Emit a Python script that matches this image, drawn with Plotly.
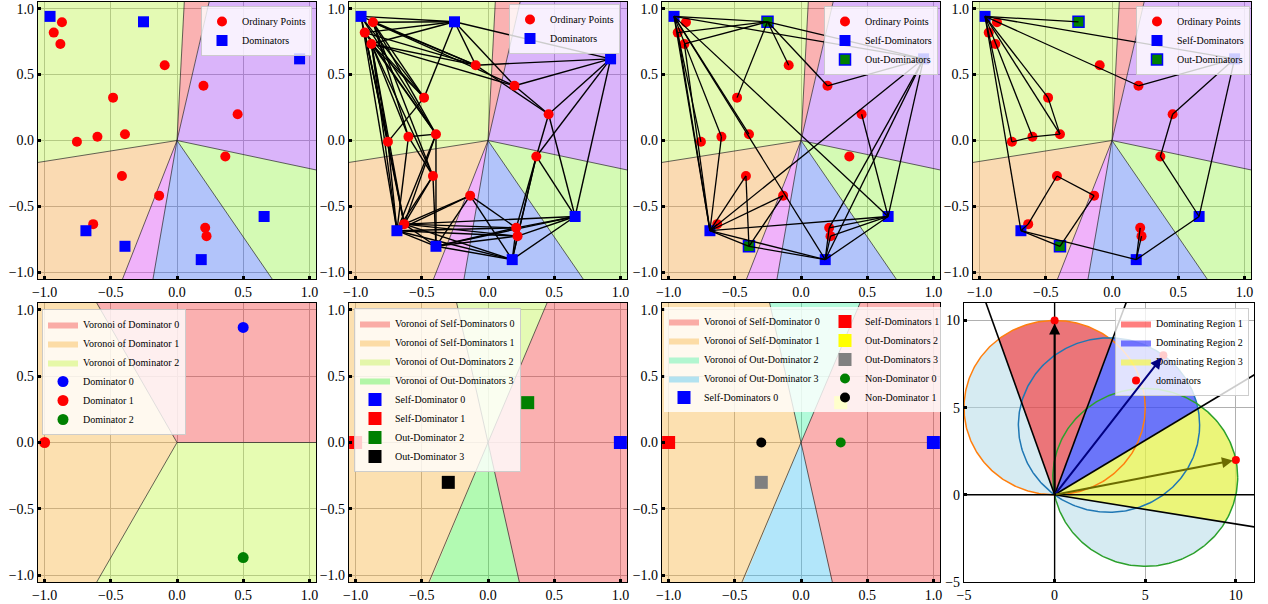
import numpy as np
import plotly.graph_objects as go

# ---------------- data: panels 1-4 (same point set) ----------------
dom_x = [-0.959, -0.253, 0.926, 0.658, 0.183, -0.393, -0.688]
dom_y = [0.941, 0.900, 0.619, -0.576, -0.903, -0.802, -0.684]
ord_x = [-0.869, -0.931, -0.881, -0.093, 0.200, -0.483, 0.458, -0.393,
         -0.601, -0.756, 0.365, -0.416, -0.135, -0.633, 0.213, 0.223]
ord_y = [0.896, 0.818, 0.732, 0.571, 0.415, 0.325, 0.199, 0.048,
         0.028, -0.010, -0.121, -0.269, -0.418, -0.634, -0.662, -0.725]
out_dom_idx = [1, 5]
sector_bounds = [-12.0, 77.0, 87.0, 189.0, 248.6, 260.2, 304.4, 348.0]
sector_colors = [(218, 180, 250), (250, 178, 178), (228, 250, 180), (250, 218, 178),
                 (240, 178, 250), (178, 196, 250), (212, 250, 180)]

edges_p2 = """D0-D1 O0-D1 O1-D1 O2-D1 D1-O3 D1-O4 D1-O5 D1-D2
D0-O3 O0-O3 O1-O3 O2-O3 O0-O4 O2-O4 O3-D2 O3-O6 O4-O6 O4-D2 O6-D2
O6-O10 O10-D2 D2-D3 O6-D3 O10-D3 O10-O14 O10-O15 O10-D4
D0-O5 O0-O5 O1-O5 O2-O5 D0-O7 O0-O7 O1-O7 O2-O7 D0-O9 O1-O9 O2-O9
O0-O8 O2-O8 O0-O11 O2-O11 D0-D6 O1-O13 O2-D6 O2-O13 O5-O9 O8-O7
O9-D6 O9-O13 O8-D6 O8-O11 O7-O13 O7-D6 O7-D5 O11-D6 O11-O13 O11-D5
O12-D6 O12-O13 O12-D5 O12-D4 O12-O14 O13-D5 O13-D4 O13-O14 O13-O15 O13-D3
D6-O14 D6-O15 D6-D5 D6-D4 D5-D4 D5-O14 D5-O15 D5-D3 D4-O14 D4-O15 D4-D3 O14-D3 O15-D3""".split()

edges_p3 = """D0-D1 D1-O1 D1-O2 D0-D2 D1-D2 D1-O3 D1-O4 D1-O5 O4-D2
D0-O9 D0-O8 D0-O7 D0-D6 O1-D6 O2-D6 D0-D4 D0-D3
D6-O8 D6-O13 D6-O11 D6-O12 D6-D5 D6-D4 D6-D3 D6-D2
O11-D5 O12-D5 D5-D4 D4-O14 D4-O15 D4-D3 D4-D2 O14-D2
O6-D3 D3-O14 D3-O15 D3-D2""".split()

edges_p4 = """D0-D1 D0-D2 D0-O4 O4-D2 D0-O5 D0-O7 D0-O8 D0-O9 O5-O7 O9-O8 O8-O7
D0-D6 D6-O13 O13-O11 O11-O12 O12-D5 D6-D5 D6-D4 D4-O14 D4-O15 D4-D3
D3-O10 O10-O6 O6-D2 D3-D2""".split()

# ---------------- data: panel 5 ----------------
p5_x = [0.5, -1.0, 0.5]
p5_y = [0.866, 0.0, -0.866]
p5_names = ["Dominator 0", "Dominator 1", "Dominator 2"]
p5_colors = ["#0000ff", "#ff0000", "#008000"]
p5_bounds = [0.0, 120.0, 240.0, 360.0]
p5_region_names = ["Voronoi of Dominator 0", "Voronoi of Dominator 1", "Voronoi of Dominator 2"]
p5_region_colors = [(250, 176, 176), (252, 224, 176), (230, 252, 178)]

# ---------------- data: panels 6 & 7 (shared geometry) ----------------
p67_regions = [(-77.5, 67.0), (102.7, 247.4), (67.0, 102.7), (247.4, 282.5)]
p67_lines = [67.0, 102.7]
p6_region_names = ["Voronoi of Self-Dominators 0", "Voronoi of Self-Dominators 1",
                   "Voronoi of Out-Dominators 2", "Voronoi of Out-Dominators 3"]
p6_region_colors = [(250, 176, 176), (252, 224, 176), (228, 250, 180), (178, 250, 178)]
p6_x = [1.0, -1.0, 0.3, -0.3]
p6_y = [0.0, 0.0, 0.3, -0.3]
p6_names = ["Self-Dominator 0", "Self-Dominator 1", "Out-Dominator 2", "Out-Dominator 3"]
p6_colors = ["#0000ff", "#ff0000", "#008000", "#000000"]

p7_region_names = ["Voronoi of Self-Dominator 0", "Voronoi of Self-Dominator 1",
                   "Voronoi of Out-Dominator 2", "Voronoi of Out-Dominator 3"]
p7_region_colors = [(250, 176, 176), (252, 224, 176), (178, 250, 218), (178, 230, 250)]
p7_sq_x = [1.0, -1.0, 0.3, -0.3]
p7_sq_y = [0.0, 0.0, 0.3, -0.3]
p7_sq_names = ["Self-Dominators 0", "Self-Dominators 1", "Out-Dominators 2", "Out-Dominators 3"]
p7_sq_colors = ["#0000ff", "#ff0000", "#ffff00", "#808080"]
p7_ci_x = [0.3, -0.3]
p7_ci_y = [0.0, 0.0]
p7_ci_names = ["Non-Dominator 0", "Non-Dominator 1"]
p7_ci_colors = ["#008000", "#000000"]

# ---------------- data: panel 8 ----------------
p8_x = [0.0, 6.0, 10.0]
p8_y = [10.0, 8.0, 2.0]
p8_rays = [109.0, 70.3, 32.0, -9.5]
p8_region_names = ["Dominating Region 1", "Dominating Region 2", "Dominating Region 3"]
p8_region_colors = ["rgba(255,0,0,0.5)", "rgba(0,0,255,0.5)", "rgba(255,255,0,0.5)"]
p8_circle_colors = ["#ff7f0e", "#1f77b4", "#2ca02c"]
p8_arrow_colors = ["#000000", "#000080", "#6b6b00"]

# ---------------- helpers ----------------
FONT = "Liberation Serif"
W, H = 1268, 604
A = 0.4


def rgba(vis, a=A):
    b = [int(max(0, min(255, round(255 - (255 - v) / a)))) for v in vis]
    return f"rgba({b[0]},{b[1]},{b[2]},{a})"


def wedge(a0, a1, R=3.0, n=80):
    t = np.radians(np.linspace(a0, a1, n))
    return [0.0, *(R * np.cos(t)), 0.0], [0.0, *(R * np.sin(t)), 0.0]


def rays(angles, R=3.0):
    xs, ys = [], []
    for a in angles:
        t = np.radians(a)
        xs += [0.0, R * np.cos(t), None]
        ys += [0.0, R * np.sin(t), None]
    return xs, ys


def lines_through(angles, R=3.0):
    xs, ys = [], []
    for a in angles:
        t = np.radians(a)
        xs += [-R * np.cos(t), R * np.cos(t), None]
        ys += [-R * np.sin(t), R * np.sin(t), None]
    return xs, ys


pts = {}
for i, (x, y) in enumerate(zip(dom_x, dom_y)):
    pts[f"D{i}"] = (x, y)
for i, (x, y) in enumerate(zip(ord_x, ord_y)):
    pts[f"O{i}"] = (x, y)


def edge_xy(edges):
    xs, ys = [], []
    for e in edges:
        a, b = e.split("-")
        xs += [pts[a][0], pts[b][0], None]
        ys += [pts[a][1], pts[b][1], None]
    return xs, ys


def axn(i):
    return ("x" if i == 1 else f"x{i}"), ("y" if i == 1 else f"y{i}")


fig = go.Figure()


def add(i, tr):
    xa, ya = axn(i)
    tr.update(xaxis=xa, yaxis=ya)
    fig.add_trace(tr)


def leg_name(i):
    return "legend" if i == 1 else f"legend{i}"


BND = dict(color="rgba(30,30,30,0.85)", width=0.8)

# ---------------- panels 1-4 ----------------
self_idx = [i for i in range(len(dom_x)) if i not in out_dom_idx]
for p in range(1, 5):
    L = leg_name(p)
    for k in range(len(sector_colors)):
        wx, wy = wedge(sector_bounds[k], sector_bounds[k + 1])
        add(p, go.Scatter(x=wx, y=wy, mode="lines", fill="toself",
                          fillcolor=rgba(sector_colors[k]), line=dict(width=0),
                          showlegend=False, hoverinfo="skip"))
    bx, by = rays(sector_bounds[:-1])
    add(p, go.Scatter(x=bx, y=by, mode="lines", line=BND, showlegend=False, hoverinfo="skip"))
    edges = {2: edges_p2, 3: edges_p3, 4: edges_p4}.get(p)
    if p == 2:
        ex, ey = edge_xy(edges)
        add(p, go.Scatter(x=ex, y=ey, mode="lines", line=dict(color="black", width=1.4),
                          showlegend=False, hoverinfo="skip"))
    add(p, go.Scatter(x=ord_x, y=ord_y, mode="markers", name="Ordinary Points", legend=L,
                      marker=dict(color="#ff0000", size=10, symbol="circle")))
    if p <= 2:
        add(p, go.Scatter(x=dom_x, y=dom_y, mode="markers", name="Dominators", legend=L,
                          marker=dict(color="#0000ff", size=11, symbol="square")))
    else:
        add(p, go.Scatter(x=[dom_x[i] for i in self_idx], y=[dom_y[i] for i in self_idx],
                          mode="markers", name="Self-Dominators", legend=L,
                          marker=dict(color="#0000ff", size=11, symbol="square")))
        add(p, go.Scatter(x=[dom_x[i] for i in out_dom_idx], y=[dom_y[i] for i in out_dom_idx],
                          mode="markers", name="Out-Dominators", legend=L,
                          marker=dict(color="#008000", size=11, symbol="square",
                                      line=dict(color="#0000ff", width=1.5))))
        ex, ey = edge_xy(edges)
        add(p, go.Scatter(x=ex, y=ey, mode="lines", line=dict(color="black", width=1.3),
                          showlegend=False, hoverinfo="skip"))

# ---------------- panel 5 ----------------
for k in range(3):
    wx, wy = wedge(p5_bounds[k], p5_bounds[k + 1])
    add(5, go.Scatter(x=wx, y=wy, mode="lines", fill="toself", fillcolor=rgba(p5_region_colors[k]),
                      line=dict(width=0), name=p5_region_names[k], legend="legend5"))
bx, by = rays(p5_bounds[:-1])
add(5, go.Scatter(x=bx, y=by, mode="lines", line=BND, showlegend=False, hoverinfo="skip"))
for k in range(3):
    add(5, go.Scatter(x=[p5_x[k]], y=[p5_y[k]], mode="markers", name=p5_names[k], legend="legend5",
                      marker=dict(color=p5_colors[k], size=11, symbol="circle")))

# ---------------- panels 6 & 7 ----------------
for p, names, cols in [(6, p6_region_names, p6_region_colors), (7, p7_region_names, p7_region_colors)]:
    for k in range(4):
        wx, wy = wedge(*p67_regions[k])
        add(p, go.Scatter(x=wx, y=wy, mode="lines", fill="toself", fillcolor=rgba(cols[k]),
                          line=dict(width=0), name=names[k], legend=leg_name(p)))
    lx, ly = lines_through(p67_lines)
    add(p, go.Scatter(x=lx, y=ly, mode="lines", line=BND, showlegend=False, hoverinfo="skip"))

for k in range(4):
    add(6, go.Scatter(x=[p6_x[k]], y=[p6_y[k]], mode="markers", name=p6_names[k], legend="legend6",
                      marker=dict(color=p6_colors[k], size=13, symbol="square")))

add(7, go.Scatter(x=[p7_sq_x[0]], y=[p7_sq_y[0]], mode="markers", name=p7_sq_names[0], legend="legend7",
                  marker=dict(color=p7_sq_colors[0], size=13, symbol="square")))
for k in range(1, 4):
    add(7, go.Scatter(x=[p7_sq_x[k]], y=[p7_sq_y[k]], mode="markers", name=p7_sq_names[k], legend="legend8",
                      marker=dict(color=p7_sq_colors[k], size=13, symbol="square")))
for k in range(2):
    add(7, go.Scatter(x=[p7_ci_x[k]], y=[p7_ci_y[k]], mode="markers", name=p7_ci_names[k], legend="legend8",
                      marker=dict(color=p7_ci_colors[k], size=10, symbol="circle")))

# ---------------- panel 8 ----------------
dvec = np.array([p8_x, p8_y]).T
mags = np.hypot(dvec[:, 0], dvec[:, 1])
phis = np.arctan2(dvec[:, 1], dvec[:, 0])
th = np.linspace(0, 2 * np.pi, 721)
r_union = np.max(np.clip(mags[:, None] * np.cos(th[None, :] - phis[:, None]), 0, None), axis=0)
add(8, go.Scatter(x=r_union * np.cos(th), y=r_union * np.sin(th), mode="lines", fill="toself",
                  fillcolor="rgba(173,216,230,0.5)", line=dict(width=0), showlegend=False, hoverinfo="skip"))
for k in range(3):
    t = np.radians(np.linspace(p8_rays[k + 1], p8_rays[k], 200))
    r = mags[k] * np.cos(t - phis[k])
    add(8, go.Scatter(x=[0, *(r * np.cos(t)), 0], y=[0, *(r * np.sin(t)), 0], mode="lines",
                      fill="toself", fillcolor=p8_region_colors[k], line=dict(width=0),
                      name=p8_region_names[k], legend="legend9"))
tc = np.linspace(0, 2 * np.pi, 361)
for k in range(3):
    cx, cy, rr = p8_x[k] / 2, p8_y[k] / 2, mags[k] / 2
    add(8, go.Scatter(x=cx + rr * np.cos(tc), y=cy + rr * np.sin(tc), mode="lines",
                      line=dict(color=p8_circle_colors[k], width=1.5), showlegend=False, hoverinfo="skip"))
rx, ry = rays(p8_rays, R=30)
add(8, go.Scatter(x=rx, y=ry, mode="lines", line=dict(color="black", width=1.6),
                  showlegend=False, hoverinfo="skip"))
X8 = [-5, 11]
Y8 = [-5, 11]
add(8, go.Scatter(x=[X8[0], X8[1], None, 0, 0], y=[0, 0, None, Y8[0], Y8[1]], mode="lines",
                  line=dict(color="black", width=1.4), showlegend=False, hoverinfo="skip"))
for k in range(3):
    fig.add_annotation(x=p8_x[k], y=p8_y[k], ax=0, ay=0, xref="x8", yref="y8", axref="x8", ayref="y8",
                       showarrow=True, arrowhead=2, arrowsize=1.1, arrowwidth=2.0,
                       arrowcolor=p8_arrow_colors[k], standoff=3, text="")
add(8, go.Scatter(x=p8_x, y=p8_y, mode="markers", name="dominators", legend="legend9",
                  marker=dict(color="#ff0000", size=8, symbol="circle")))

# ---------------- layout ----------------
col_px = [(38, 316), (349, 627), (662, 940), (973, 1251)]
row_px = [(2, 279), (303, 582)]
p8_px = (964, 1254)


def axis_common(rng, dtick, fmt):
    return dict(range=rng, dtick=dtick, tick0=0, tickformat=fmt, showgrid=True,
                gridcolor="#b0b0b0", gridwidth=0.8, zeroline=False, showline=True,
                linecolor="black", linewidth=1.2, mirror=True, ticks="inside", ticklen=3,
                tickwidth=3, tickcolor="black",
                tickfont=dict(family=FONT, size=14, color="black"), automargin=False,
                fixedrange=True)


layout = {}
for i in range(1, 9):
    r = 0 if i <= 4 else 1
    c = (i - 1) % 4
    xpx = p8_px if i == 8 else col_px[c]
    ypx = row_px[r]
    xa, ya = axn(i)
    if i == 8:
        xr, yr, dt, fmt = X8, Y8, 5, "d"
    else:
        xr, yr, dt, fmt = [-1.05, 1.05], [-1.05, 1.05], 0.5, ".1f"
    xd = axis_common(xr, dt, fmt)
    xd.update(domain=[xpx[0] / W, xpx[1] / W], anchor=ya)
    yd = axis_common(yr, dt, fmt)
    yd.update(domain=[1 - ypx[1] / H, 1 - ypx[0] / H], anchor=xa)
    layout["xaxis" if i == 1 else f"xaxis{i}"] = xd
    layout["yaxis" if i == 1 else f"yaxis{i}"] = yd


def leg(x, y, xanchor="left", yanchor="top", bw=1):
    return dict(x=x / W, y=1 - y / H, xanchor=xanchor, yanchor=yanchor, xref="paper", yref="paper",
                bgcolor="rgba(255,255,255,0.8)", bordercolor="rgba(200,200,200,0.9)", borderwidth=bw,
                font=dict(family=FONT, size=10, color="black"), tracegroupgap=0, itemwidth=30)


layout["legend"] = leg(312, 6, "right")
layout["legend2"] = leg(620, 4, "right")
layout["legend3"] = leg(938, 6, "right")
layout["legend4"] = leg(1250, 6, "right")
layout["legend5"] = leg(42, 309)
layout["legend6"] = leg(354, 308)
layout["legend7"] = leg(664, 307, bw=0)
layout["legend8"] = leg(945, 307, "right", bw=0)
layout["legend9"] = leg(1249, 308, "right")

fig.update_layout(**layout)
fig.update_layout(width=W, height=H, margin=dict(l=0, r=0, t=0, b=0), paper_bgcolor="white",
                  plot_bgcolor="white", font=dict(family=FONT, color="black"), showlegend=True)

fig.write_html("out.html", config={"displayModeBar": False},
               post_script="document.body.style.margin='0';document.body.style.overflow='hidden';")
